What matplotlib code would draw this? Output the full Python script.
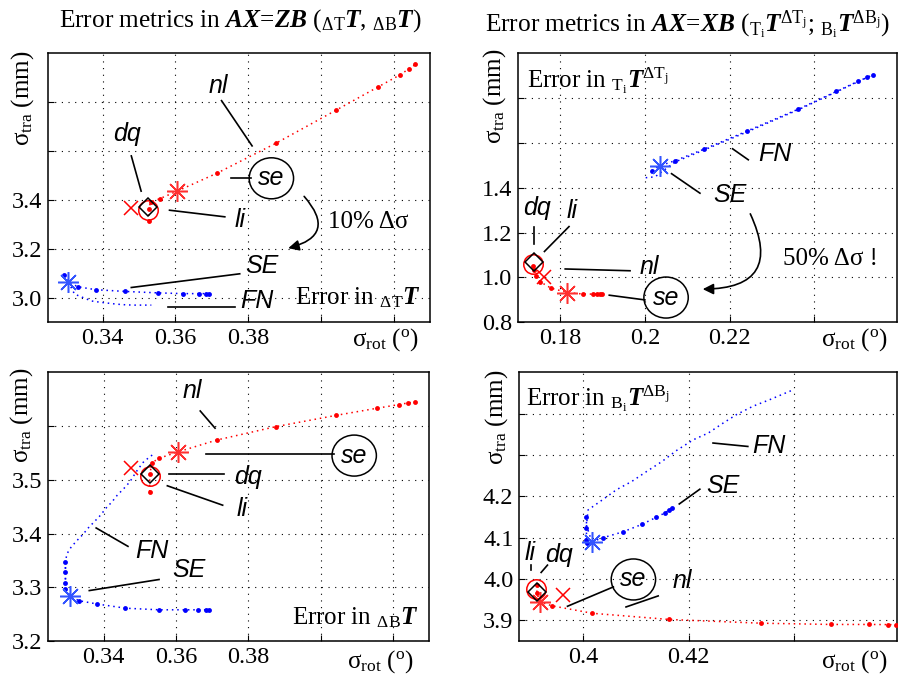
import matplotlib
matplotlib.use('Agg')
import matplotlib.pyplot as plt

plt.rcParams['font.family'] = ['Liberation Serif', 'DejaVu Serif']
plt.rcParams['mathtext.fontset'] = 'custom'
plt.rcParams['mathtext.rm'] = 'Liberation Serif'
plt.rcParams['mathtext.it'] = 'Liberation Serif:italic'
plt.rcParams['mathtext.bf'] = 'Liberation Serif:bold'
plt.rcParams['mathtext.bfit'] = 'Liberation Serif:bold:italic'

# ---- data ----
# top-left: error in dT T
p1_red_x = [0.3527, 0.3527, 0.3532, 0.3557, 0.3605, 0.3714, 0.3878, 0.4043, 0.4156, 0.4217, 0.4242, 0.4260]
p1_red_y = [3.312, 3.364, 3.390, 3.404, 3.435, 3.508, 3.632, 3.767, 3.860, 3.910, 3.935, 3.953]
p1_se = [0.3605, 3.435]
p1_li = [0.3526, 3.357]
p1_dq = [0.3526, 3.371]
p1_nl = [0.3477, 3.367]
p1_SE_x = [0.3293, 0.3306, 0.3332, 0.3381, 0.3461, 0.3552, 0.3621, 0.3664, 0.3685, 0.3692]
p1_SE_y = [3.093, 3.063, 3.044, 3.032, 3.025, 3.019, 3.016, 3.016, 3.016, 3.016]
p1_SE_star = [0.3306, 3.063]
p1_FN_x = [0.3306, 0.3323, 0.3346, 0.3369, 0.3392, 0.3415, 0.3438, 0.3465, 0.3488, 0.3534]
p1_FN_y = [3.063, 3.014, 3.000, 2.986, 2.981, 2.977, 2.973, 2.970, 2.969, 2.969]

# top-right: error in Ti T ^dTj
p2_red_x = [0.1737, 0.1739, 0.1743, 0.1753, 0.1778, 0.1817, 0.1855, 0.1877, 0.1888, 0.1894, 0.1900]
p2_red_y = [1.052, 1.033, 1.008, 0.981, 0.953, 0.933, 0.926, 0.926, 0.926, 0.926, 0.926]
p2_se = [0.1817, 0.933]
p2_li = [0.1737, 1.060]
p2_dq = [0.1739, 1.067]
p2_nl = [0.1761, 1.003]
p2_SE_x = [0.2016, 0.2035, 0.2071, 0.2139, 0.2242, 0.2362, 0.2452, 0.2503, 0.2525, 0.2539]
p2_SE_y = [1.477, 1.498, 1.521, 1.572, 1.654, 1.751, 1.830, 1.875, 1.893, 1.905]
p2_SE_star = [0.2035, 1.498]
p2_FN_x = [0.2002, 0.2024, 0.2071, 0.2139, 0.2242, 0.2362, 0.2452, 0.2539]
p2_FN_y = [1.445, 1.449, 1.515, 1.568, 1.650, 1.748, 1.828, 1.905]

# bottom-left: error in dB T
p3_red_x = [0.3527, 0.3527, 0.3534, 0.3553, 0.3606, 0.3713, 0.3877, 0.4044, 0.4155, 0.4217, 0.4242, 0.4261]
p3_red_y = [3.478, 3.510, 3.532, 3.540, 3.552, 3.574, 3.599, 3.620, 3.633, 3.640, 3.643, 3.645]
p3_se = [0.3606, 3.552]
p3_li = [0.3527, 3.507]
p3_dq = [0.3527, 3.511]
p3_nl = [0.3476, 3.521]
p3_SE_x = [0.3294, 0.3294, 0.3294, 0.3294, 0.3306, 0.3331, 0.3380, 0.3460, 0.3553, 0.3624, 0.3662, 0.3682, 0.3692]
p3_SE_y = [3.347, 3.328, 3.307, 3.297, 3.284, 3.275, 3.269, 3.261, 3.258, 3.258, 3.258, 3.258, 3.258]
p3_SE_star = [0.3306, 3.284]
p3_FN_x = [0.3534, 0.3511, 0.3493, 0.3472, 0.3456, 0.3437, 0.3423, 0.3406, 0.3391, 0.3374, 0.3358,
           0.3342, 0.3326, 0.3310, 0.3298, 0.3294, 0.3294, 0.3306]
p3_FN_y = [3.546, 3.534, 3.518, 3.496, 3.484, 3.471, 3.459, 3.447, 3.434, 3.422, 3.411,
           3.398, 3.387, 3.375, 3.362, 3.347, 3.300, 3.284]

# bottom-right: error in Bi T ^dBj
p4_red_x = [0.3912, 0.3912, 0.3918, 0.3941, 0.4017, 0.4163, 0.4337, 0.4469, 0.4542, 0.4577, 0.4594]
p4_red_y = [3.985, 3.965, 3.944, 3.935, 3.917, 3.902, 3.893, 3.890, 3.890, 3.8896, 3.8896]
p4_se = [0.3918, 3.944]
p4_li = [0.3910, 3.975]
p4_dq = [0.3912, 3.969]
p4_nl = [0.3961, 3.961]
p4_SE_x = [0.4006, 0.4006, 0.4006, 0.4007, 0.4016, 0.4038, 0.4075, 0.4111, 0.4138, 0.4155, 0.4163, 0.4169]
p4_SE_y = [4.151, 4.123, 4.094, 4.086, 4.090, 4.100, 4.114, 4.132, 4.149, 4.160, 4.167, 4.172]
p4_SE_star = [0.4016, 4.090]
p4_FN_x = [0.4016, 0.4006, 0.4009, 0.4038, 0.4063, 0.4092, 0.4120, 0.4149, 0.4177, 0.4209, 0.4237,
           0.4265, 0.4291, 0.4322, 0.4354, 0.4395]
p4_FN_y = [4.090, 4.130, 4.167, 4.193, 4.216, 4.236, 4.260, 4.284, 4.311, 4.337, 4.353,
           4.377, 4.398, 4.418, 4.434, 4.456]

# axis ticks (labels blank where the original leaves them out)
p1_xticks = [0.34, 0.36, 0.38, 0.40, 0.42]
p1_xlabels = ['0.34', '0.36', '0.38', '', '']
p1_yticks = [3.0, 3.2, 3.4, 3.6, 3.8]
p1_ylabels = ['3.0', '3.2', '3.4', '', '']
p2_xticks = [0.18, 0.20, 0.22, 0.24]
p2_xlabels = ['0.18', '0.2', '0.22', '']
p2_yticks = [0.8, 1.0, 1.2, 1.4, 1.6, 1.8]
p2_ylabels = ['0.8', '1.0', '1.2', '1.4', '', '']
p3_yticks = [3.2, 3.3, 3.4, 3.5, 3.6]
p3_ylabels = ['3.2', '3.3', '3.4', '3.5', '']
p4_xticks = [0.40, 0.42, 0.44]
p4_xlabels = ['0.4', '0.42', '']
p4_yticks = [3.9, 4.0, 4.1, 4.2, 4.3, 4.4]
p4_ylabels = ['3.9', '4.0', '4.1', '4.2', '', '']

TICK_FS = 17.5
LBL_FS = 18
SANS = dict(family='Liberation Sans', style='italic', fontsize=18)
DOTS = (0, (1, 2.5))

fig = plt.figure(figsize=(8.99, 6.79), dpi=100)


def draw_panel(ax, red_x, red_y, se, li, dq, nl, SE_x, SE_y, SE_star, FN_x, FN_y):
    ax.plot(red_x, red_y, color='red', linestyle=DOTS, lw=1.1, zorder=3)
    ax.plot(red_x, red_y, 'o', color='red', ms=3.5, mew=0, zorder=4)
    ax.plot(FN_x, FN_y, color='blue', linestyle=DOTS, lw=1.1, zorder=3)
    ax.plot(SE_x, SE_y, color='blue', linestyle=DOTS, lw=1.1, zorder=3)
    ax.plot(SE_x, SE_y, 'o', color='blue', ms=3.5, mew=0, zorder=4)
    ax.plot(SE_star[0], SE_star[1], marker=(8, 2, 0), color='#3355ff', ms=15, mew=1.1, zorder=5)
    ax.plot(se[0], se[1], marker=(8, 2, 0), color='#ff3030', ms=15, mew=1.1, zorder=5)
    ax.plot(li[0], li[1], 'o', mfc='none', mec='red', ms=14, mew=1.1, zorder=5)
    ax.plot(dq[0], dq[1], 'D', mfc='none', mec='black', ms=9, mew=1.1, zorder=6)
    ax.plot(nl[0], nl[1], 'x', color='red', ms=10, mew=1.1, zorder=5)


def style_axes(ax, xlim, ylim, xticks, xlabels, yticks, ylabels):
    ax.set_xlim(xlim)
    ax.set_ylim(ylim)
    ax.set_xticks(xticks)
    ax.set_xticklabels(xlabels, fontsize=TICK_FS)
    ax.set_yticks(yticks)
    ax.set_yticklabels(ylabels, fontsize=TICK_FS)
    ax.grid(True, color='black', linestyle=(0, (1, 5)), lw=0.8)
    ax.tick_params(direction='in', length=4, width=0.8, pad=4)
    for s in ax.spines.values():
        s.set_linewidth(1.1)


def leader(ax, x0, y0, x1, y1):
    ax.plot([x0, x1], [y0, y1], color='black', lw=1.2, zorder=7)


ax1 = fig.add_axes([0.0534, 0.5258, 0.4249, 0.3962])
ax2 = fig.add_axes([0.5759, 0.5253, 0.4219, 0.3962])
ax3 = fig.add_axes([0.0531, 0.0560, 0.4241, 0.3957])
ax4 = fig.add_axes([0.5773, 0.0560, 0.4205, 0.3957])

draw_panel(ax1, p1_red_x, p1_red_y, p1_se, p1_li, p1_dq, p1_nl, p1_SE_x, p1_SE_y, p1_SE_star, p1_FN_x, p1_FN_y)
draw_panel(ax2, p2_red_x, p2_red_y, p2_se, p2_li, p2_dq, p2_nl, p2_SE_x, p2_SE_y, p2_SE_star, p2_FN_x, p2_FN_y)
draw_panel(ax3, p3_red_x, p3_red_y, p3_se, p3_li, p3_dq, p3_nl, p3_SE_x, p3_SE_y, p3_SE_star, p3_FN_x, p3_FN_y)
draw_panel(ax4, p4_red_x, p4_red_y, p4_se, p4_li, p4_dq, p4_nl, p4_SE_x, p4_SE_y, p4_SE_star, p4_FN_x, p4_FN_y)

style_axes(ax1, (0.325, 0.43), (2.90, 4.00), p1_xticks, p1_xlabels, p1_yticks, p1_ylabels)
style_axes(ax2, (0.170, 0.2595), (0.80, 2.00), p2_xticks, p2_xlabels, p2_yticks, p2_ylabels)
style_axes(ax3, (0.3245, 0.43), (3.20, 3.70), p1_xticks, p1_xlabels, p3_yticks, p3_ylabels)
style_axes(ax4, (0.3878, 0.4595), (3.85, 4.50), p4_xticks, p4_xlabels, p4_yticks, p4_ylabels)

ell = dict(boxstyle='ellipse,pad=0.1', fc='none', ec='black', lw=1.1)
arrow = dict(arrowstyle='-|>', color='black', lw=1.2, mutation_scale=16)

# top-left annotations
ax1.text(0.3719, 3.865, 'nl', ha='center', va='center', **SANS)
leader(ax1, 0.3727, 3.805, 0.3811, 3.620)
ax1.text(0.3468, 3.668, 'dq', ha='center', va='center', **SANS)
leader(ax1, 0.3479, 3.579, 0.3506, 3.435)
ax1.text(0.3864, 3.4875, 'se', ha='center', va='center', bbox=ell, **SANS)
leader(ax1, 0.3752, 3.4875, 0.3809, 3.4875)
ax1.text(0.3779, 3.319, 'li', ha='center', va='center', **SANS)
leader(ax1, 0.3584, 3.357, 0.3736, 3.330)
ax1.annotate('', xy=(0.3903, 3.199), xytext=(0.3949, 3.422),
             arrowprops=dict(connectionstyle='arc3,rad=-0.85', **arrow))
ax1.text(0.4130, 3.308, '10% Δσ', ha='center', va='center', fontsize=LBL_FS)
ax1.text(0.3837, 3.127, 'SE', ha='center', va='center', **SANS)
leader(ax1, 0.3479, 3.041, 0.3777, 3.097)
ax1.text(0.3823, 2.984, 'FN', ha='center', va='center', **SANS)
leader(ax1, 0.3580, 2.961, 0.3763, 2.961)
ax1.text(0.4275, 2.970, r'Error in $_{\Delta\mathrm{T}}\mathbfit{T}$', ha='right', va='baseline', fontsize=LBL_FS)

# top-right annotations
ax2.text(0.1721, 1.847, r'Error in $_{\mathrm{T_i}}\mathbfit{T}^{\Delta\mathrm{T_j}}$', ha='left', va='baseline', fontsize=LBL_FS)
ax2.text(0.2307, 1.549, 'FN', ha='center', va='center', **SANS)
leader(ax2, 0.2207, 1.574, 0.2244, 1.525)
ax2.text(0.2201, 1.370, 'SE', ha='center', va='center', **SANS)
leader(ax2, 0.2063, 1.463, 0.2130, 1.376)
ax2.text(0.1745, 1.310, 'dq', ha='center', va='center', **SANS)
leader(ax2, 0.1739, 1.224, 0.1739, 1.149)
ax2.text(0.1828, 1.298, 'li', ha='center', va='center', **SANS)
leader(ax2, 0.1763, 1.116, 0.1821, 1.227)
ax2.text(0.2011, 1.045, 'nl', ha='center', va='center', **SANS)
leader(ax2, 0.1812, 1.038, 0.1965, 1.030)
ax2.text(0.2050, 0.9105, 'se', ha='center', va='center', bbox=ell, **SANS)
leader(ax2, 0.1916, 0.921, 0.2000, 0.900)
ax2.annotate('', xy=(0.2130, 0.948), xytext=(0.2246, 1.295),
             arrowprops=dict(connectionstyle='arc3,rad=-0.8', **arrow))
ax2.text(0.2437, 1.082, '50% Δσ !', ha='center', va='center', fontsize=LBL_FS)

# bottom-left annotations
ax3.text(0.3644, 3.6645, 'nl', ha='center', va='center', **SANS)
leader(ax3, 0.3667, 3.628, 0.3708, 3.596)
ax3.text(0.4093, 3.545, 'se', ha='center', va='center', bbox=ell, **SANS)
leader(ax3, 0.3684, 3.548, 0.4037, 3.548)
ax3.text(0.3798, 3.5056, 'dq', ha='center', va='center', **SANS)
leader(ax3, 0.3581, 3.5107, 0.3733, 3.5107)
ax3.text(0.3783, 3.4465, 'li', ha='center', va='center', **SANS)
leader(ax3, 0.3576, 3.4888, 0.3729, 3.4527)
ax3.text(0.3534, 3.3673, 'FN', ha='center', va='center', **SANS)
leader(ax3, 0.3379, 3.4103, 0.3467, 3.3761)
ax3.text(0.3636, 3.3312, 'SE', ha='center', va='center', **SANS)
leader(ax3, 0.3360, 3.2938, 0.3553, 3.3144)
ax3.text(0.4270, 3.2316, r'Error in $_{\Delta\mathrm{B}}\mathbfit{T}$', ha='right', va='baseline', fontsize=LBL_FS)

# bottom-right annotations
ax4.text(0.3891, 4.4177, r'Error in $_{\mathrm{B_i}}\mathbfit{T}^{\Delta\mathrm{B_j}}$', ha='left', va='baseline', fontsize=LBL_FS)
ax4.text(0.4351, 4.3223, 'FN', ha='center', va='center', **SANS)
leader(ax4, 0.4246, 4.3289, 0.4312, 4.3206)
ax4.text(0.4264, 4.2252, 'SE', ha='center', va='center', **SANS)
leader(ax4, 0.4182, 4.1815, 0.4221, 4.2172)
ax4.text(0.3899, 4.0619, 'li', ha='center', va='center', **SANS)
leader(ax4, 0.3901, 4.0335, 0.3901, 4.0213)
ax4.text(0.3953, 4.0578, 'dq', ha='center', va='center', **SANS)
leader(ax4, 0.3920, 4.0158, 0.3932, 4.0335)
ax4.text(0.4095, 3.9988, 'se', ha='center', va='center', bbox=ell, **SANS)
leader(ax4, 0.3970, 3.9340, 0.4057, 3.9808)
ax4.text(0.4187, 3.9954, 'nl', ha='center', va='center', **SANS)
leader(ax4, 0.4081, 3.9323, 0.4142, 3.9590)

# titles
fig.text(0.267, 0.9607, r'Error metrics in $\mathbfit{AX}$=$\mathbfit{ZB}$ ($_{\Delta\mathrm{T}}\mathbfit{T}$, $_{\Delta\mathrm{B}}\mathbfit{T}$)',
         ha='center', va='baseline', fontsize=18.3)
fig.text(0.765, 0.9533, r'Error metrics in $\mathbfit{AX}$=$\mathbfit{XB}$ ($_{\mathrm{T_i}}\mathbfit{T}^{\Delta\mathrm{T_j}}$; $_{\mathrm{B_i}}\mathbfit{T}^{\Delta\mathrm{B_j}}$)',
         ha='center', va='baseline', fontsize=18.3)

# axis labels
ylab = r'σ$_{\mathrm{tra}}$ (mm)'
xlab = r'σ$_{\mathrm{rot}}$ ($^{\mathrm{o}}$)'
for (x, y) in [(0.0256, 0.8557), (0.5506, 0.858), (0.0245, 0.3888), (0.5525, 0.386)]:
    fig.text(x, y, ylab, rotation=90, ha='center', va='center', fontsize=LBL_FS)
for (x, y) in [(0.4294, 1 - 346 / 679), (0.951, 1 - 346 / 679), (0.4238, 1 - 668 / 679), (0.951, 1 - 668 / 679)]:
    fig.text(x, y, xlab, ha='center', va='baseline', fontsize=LBL_FS)

fig.savefig('out.png', dpi=100)
